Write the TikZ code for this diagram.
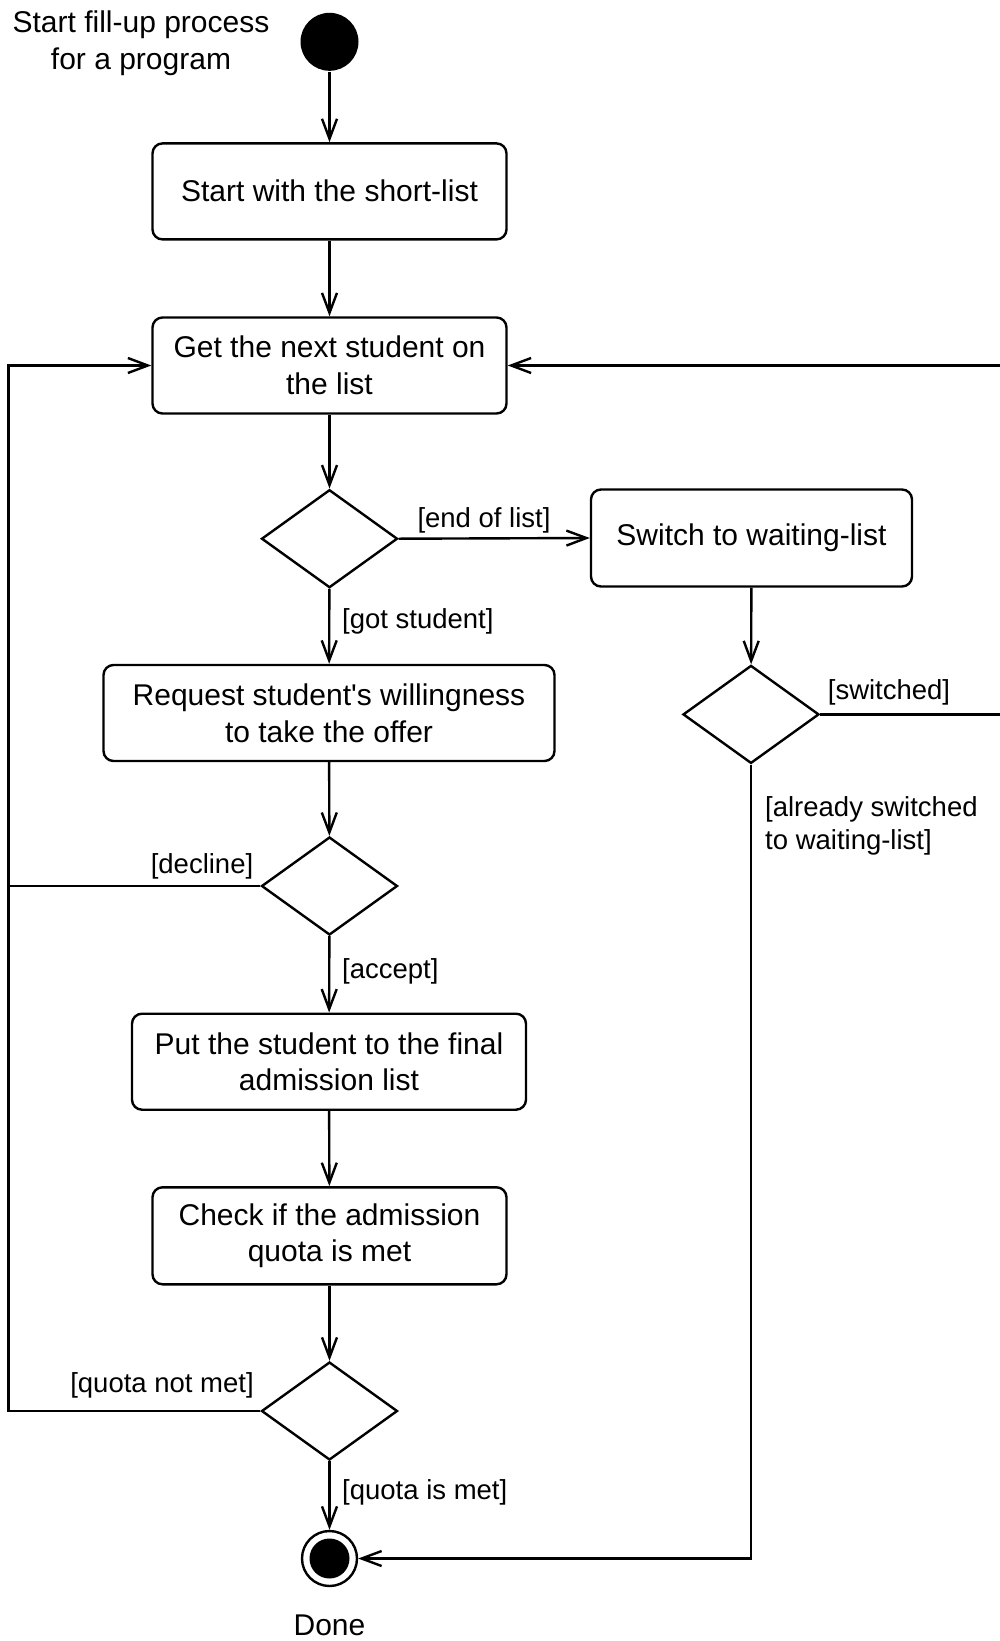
\documentclass[tikz,border=0pt]{standalone}
\usepackage{fontspec}
\setmainfont{Liberation Sans}
\usetikzlibrary{arrows.meta,shapes.geometric}
\begin{document}
\begin{tikzpicture}[x=1pt,y=1pt,
  line width=2.4pt,
  every node/.style={font=\fontsize{30}{36.6}\selectfont},
  action/.style={draw, rectangle, rounded corners=10pt, align=center, inner sep=0pt},
  decision/.style={draw, diamond, inner sep=0pt, minimum width=136pt, minimum height=98pt},
  guard/.style={font=\fontsize{27.5}{33}\selectfont, inner sep=0pt, align=left},
  flow/.style={-{Straight Barb[length=20pt,width=15pt]}},
]
\useasboundingbox (0,0) rectangle (1000,-1641);

% start and end states
\node[circle, fill=black, minimum size=58pt, inner sep=0pt] (start) at (329.5,-41.8) {};
\node[align=center, inner sep=0pt] (startlbl) at (141,-43.5) {Start fill-up process\\for a program};
\node[circle, draw, fill=white, minimum size=55pt, inner sep=0pt] (end) at (329.5,-1558.5) {};
\node[circle, fill=black, minimum size=40pt, inner sep=0pt] (endcore) at (329.5,-1558.5) {};
\node[inner sep=0pt] (donelbl) at (329.5,-1625) {Done};

% actions
\node[action, minimum width=354pt, minimum height=96pt] (shortlist) at (329.5,-191.4) {\raisebox{2pt}{Start with the short-list}};
\node[action, minimum width=354pt, minimum height=96pt] (next) at (329.5,-365.5) {Get the next student on\\the list};
\node[action, minimum width=321pt, minimum height=97pt] (switch) at (751.5,-538) {\raisebox{-2pt}{Switch to waiting-list}};
\node[action, minimum width=451pt, minimum height=96pt] (request) at (329,-713) {Request student\textquotesingle s willingness\\to take the offer};
\node[action, minimum width=394pt, minimum height=96pt] (put) at (329,-1061.7) {Put the student to the final\\admission list};
\node[action, minimum width=354pt, minimum height=97pt] (check) at (329.5,-1235.8) {Check if the admission\\quota is met};

% decisions
\node[decision] (dlist) at (329.5,-538.7) {};
\node[decision] (dswitch) at (751,-714.4) {};
\node[decision] (dreply) at (329.5,-886) {};
\node[decision] (dquota) at (329.5,-1411) {};

% corner points of the loops
\coordinate (lefttop) at (8.4,-365.5);
\coordinate (leftmid) at (8.4,-886);
\coordinate (leftbot) at (8.4,-1411);
\coordinate (righttop) at (1003,-365.5);
\coordinate (rightmid) at (1003,-714.4);
\coordinate (waitbot) at (751,-1558.5);

% main flow
\draw[flow] (start) -- (shortlist);
\draw[flow] (shortlist) -- (next);
\draw[flow] (next) -- (dlist);
\draw[flow] (dlist.east) -- (switch.west);
\draw[flow] (dlist) -- (request);
\draw[flow] (switch) -- (dswitch);
\draw[flow] (request) -- (dreply);
\draw[flow] (dreply) -- (put);
\draw[flow] (put) -- (check);
\draw[flow] (check) -- (dquota);
\draw[flow] (dquota) -- (end);

% loops back and the exit from the waiting list
\draw[flow] (dswitch.east) -- (rightmid) -- (righttop) -- (next.east);
\draw[flow] (dreply.west) -- (leftmid) -- (lefttop) -- (next.west);
\draw (dquota.west) -- (leftbot) -- (leftmid);
\draw[flow] (dswitch.south) -- (waitbot) -- (end.east);

% guards
\node[guard] (gend) at (484,-520) {[end of list]};
\node[guard, anchor=west] (ggot) at (341,-621) {[got student]};
\node[guard] (gswitched) at (889,-692) {[switched]};
\node[guard, anchor=west] (galready) at (764,-825.5) {[already switched\\to waiting-list]};
\node[guard] (gdecline) at (202,-866) {[decline]};
\node[guard, anchor=west] (gaccept) at (341,-971.5) {[accept]};
\node[guard] (gnotmet) at (162,-1385) {[quota not met]};
\node[guard, anchor=west] (gmet) at (341,-1492.5) {[quota is met]};
\end{tikzpicture}
\end{document}
